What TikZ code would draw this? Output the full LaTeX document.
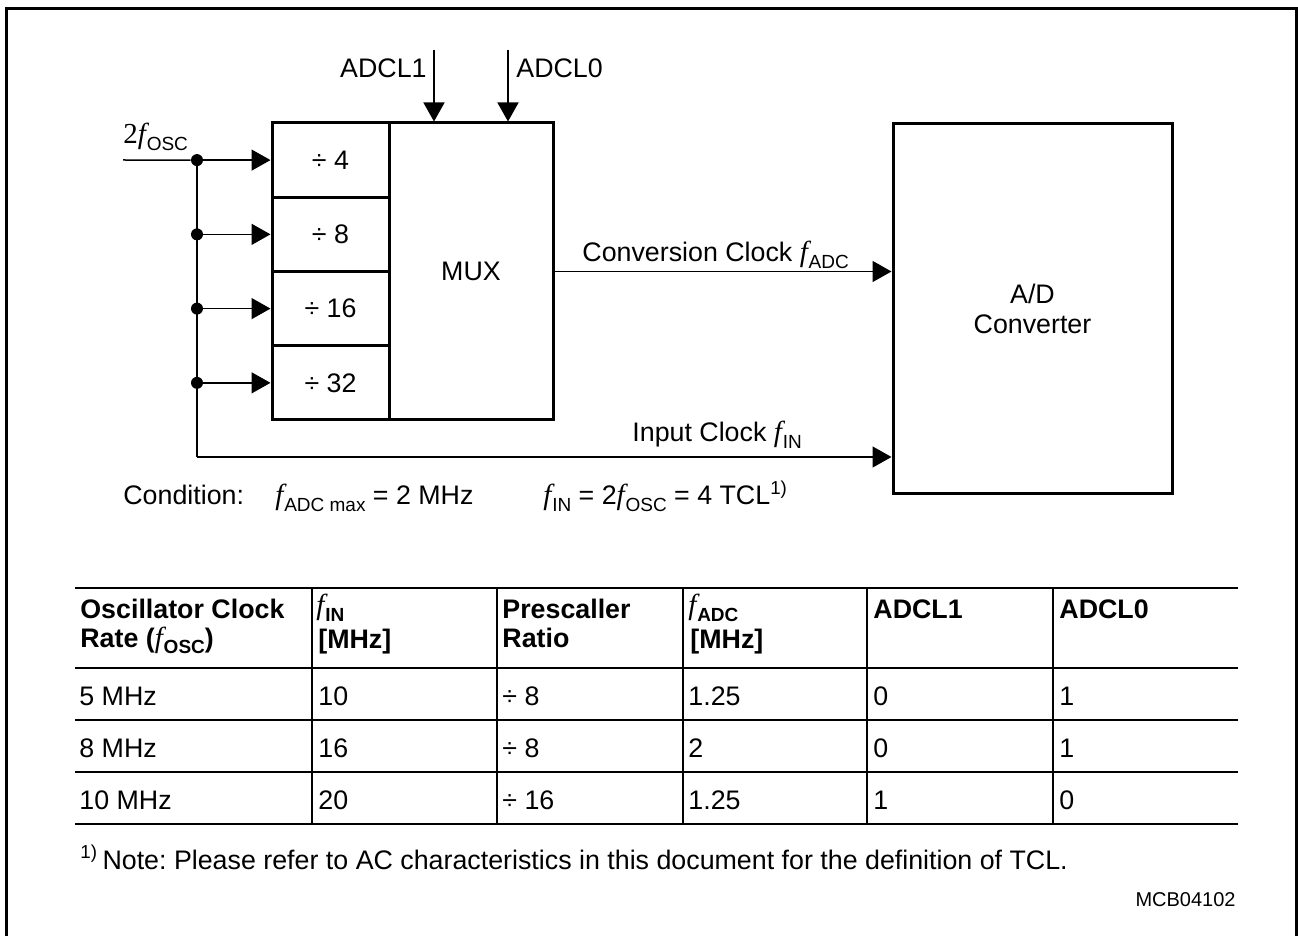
\documentclass[tikz,border=0pt]{standalone}
\usepackage{fontspec}
\setmainfont{Liberation Sans}
\newfontfamily\serif{Liberation Serif}
\usetikzlibrary{arrows.meta, positioning}
\frenchspacing

% italic f with an upright index below
\newcommand{\fq}[1]{{\serif\mdseries\itshape\fontsize{14.5}{15}\selectfont f}\kern0.03em\raisebox{-0.45ex}{\fontsize{9.5}{10}\selectfont #1}}

\begin{document}
\begin{tikzpicture}[x=0.5pt, y=-0.5pt,
  every node/.style={font=\fontsize{13.4}{15}\selectfont, inner sep=0pt},
  box/.style={draw, line width=1.5pt},
  cell/.style={box, minimum width=58.5pt, minimum height=37.1pt},
  wire/.style={line width=0.75pt},
  sig/.style={wire, -{Triangle[length=9.5pt, width=10.5pt]}},
  dot/.style={circle, fill, minimum size=6pt},
  grid/.style={line width=0.75pt},
  txt/.style={anchor=base west},
  head/.style={anchor=base west, font=\fontsize{13.4}{15}\selectfont\bfseries}]

\useasboundingbox (0,0) rectangle (1298,936);

% Outer frame (open at the bottom)
\draw[line width=1.5pt] (6,936) -- (6,9) -- (1296,9) -- (1296,936);

% MUX with the four prescaler cells
\node[box, minimum width=82pt, minimum height=148.5pt] (mux) at (471,271.5) {MUX};
\foreach \i/\d in {0/4,1/8,2/16,3/32} {
  \node[cell] (div\d) at (330.5,{160.1+74.25*\i}) {÷ \d};
}

% A/D converter
\node[box, minimum width=139.5pt, minimum height=185pt, align=center] (adc) at (1032.5,309) {A/D\\Converter};

% Clock input and taps
\coordinate (osc) at (123,160);
\coordinate (bus) at (197,0);
\foreach \d in {4,8,16,32} {
  \node[dot] (tap\d) at (bus |- div\d.west) {};
  \draw[sig] (tap\d) -- (div\d);
}
\draw[wire] (osc) -- (tap4);
\node[txt] (osclbl) at (123,144) {{\serif\fontsize{14.5}{15}\selectfont 2}\fq{OSC}};

% Input clock to the converter
\coordinate (inbend) at (197,457);
\draw[wire] (tap4.center) -- (inbend);
\draw[sig] (inbend) -- (inbend -| adc.west);
\node[txt] (inlbl) at (632,442) {Input Clock \fq{IN}};

% Conversion clock
\draw[sig] (mux.east) -- (mux.east -| adc.west);
\node[txt] (convlbl) at (582,262) {Conversion Clock \fq{ADC}};

% Select inputs
\coordinate (sel1) at (434,50);
\coordinate (sel0) at (508,50);
\draw[sig] (sel1) -- (sel1 |- mux.north);
\draw[sig] (sel0) -- (sel0 |- mux.north);
\node[anchor=base east] (adcl1) at (427,78) {ADCL1};
\node[txt] (adcl0) at (516,78) {ADCL0};

% Condition line
\node[txt] (cond) at (123,505) {Condition:};
\node[txt] (condadc) at (275,505) {\fq{ADC max} = 2 MHz};
\node[txt] (condin) at (543,505) {\fq{IN} = 2\fq{OSC} = 4 TCL\textsuperscript{1)}};

% Table rules
\foreach \y in {588,668,720,772,824}
  \draw[grid] (75,\y) -- (1238,\y);
\foreach \x in {312,497,683,867,1053}
  \draw[grid] (\x,588) -- (\x,824);

% Table head
\node[head] (hosc) at (80,618) {Oscillator Clock};
\node[head] (hoscb) at (80,647) {Rate (\fq{OSC})};
\node[head] (hin) at (316,615) {\fq{IN}};
\node[head] (hinb) at (318,648) {[MHz]};
\node[head] (hpre) at (502,618) {Prescaller};
\node[head] (hpreb) at (502,647) {Ratio};
\node[head] (hadc) at (688,615) {\fq{ADC}};
\node[head] (hadcb) at (690,648) {[MHz]};
\node[head] (hsel1) at (873,618) {ADCL1};
\node[head] (hsel0) at (1059,618) {ADCL0};

% Table rows
\foreach \y/\a/\b/\c/\d/\e/\g in {705/5 MHz/10/÷ 8/1.25/0/1,
                                 757/8 MHz/16/÷ 8/2/0/1,
                                 809/10 MHz/20/÷ 16/1.25/1/0} {
  \node[txt] (ra\y) at (79,\y) {\a};
  \node[txt] (rb\y) at (318,\y) {\b};
  \node[txt] (rc\y) at (502,\y) {\c};
  \node[txt] (rd\y) at (688,\y) {\d};
  \node[txt] (re\y) at (873,\y) {\e};
  \node[txt] (rf\y) at (1059,\y) {\g};
}

% Footnote and figure code
\node[txt] (note) at (80,869) {\textsuperscript{1)}\,Note: Please refer to AC characteristics in this document for the definition of TCL.};
\node[anchor=base east, font=\fontsize{10}{12}\selectfont] (mcb) at (1236,906) {MCB04102};

\end{tikzpicture}
\end{document}
